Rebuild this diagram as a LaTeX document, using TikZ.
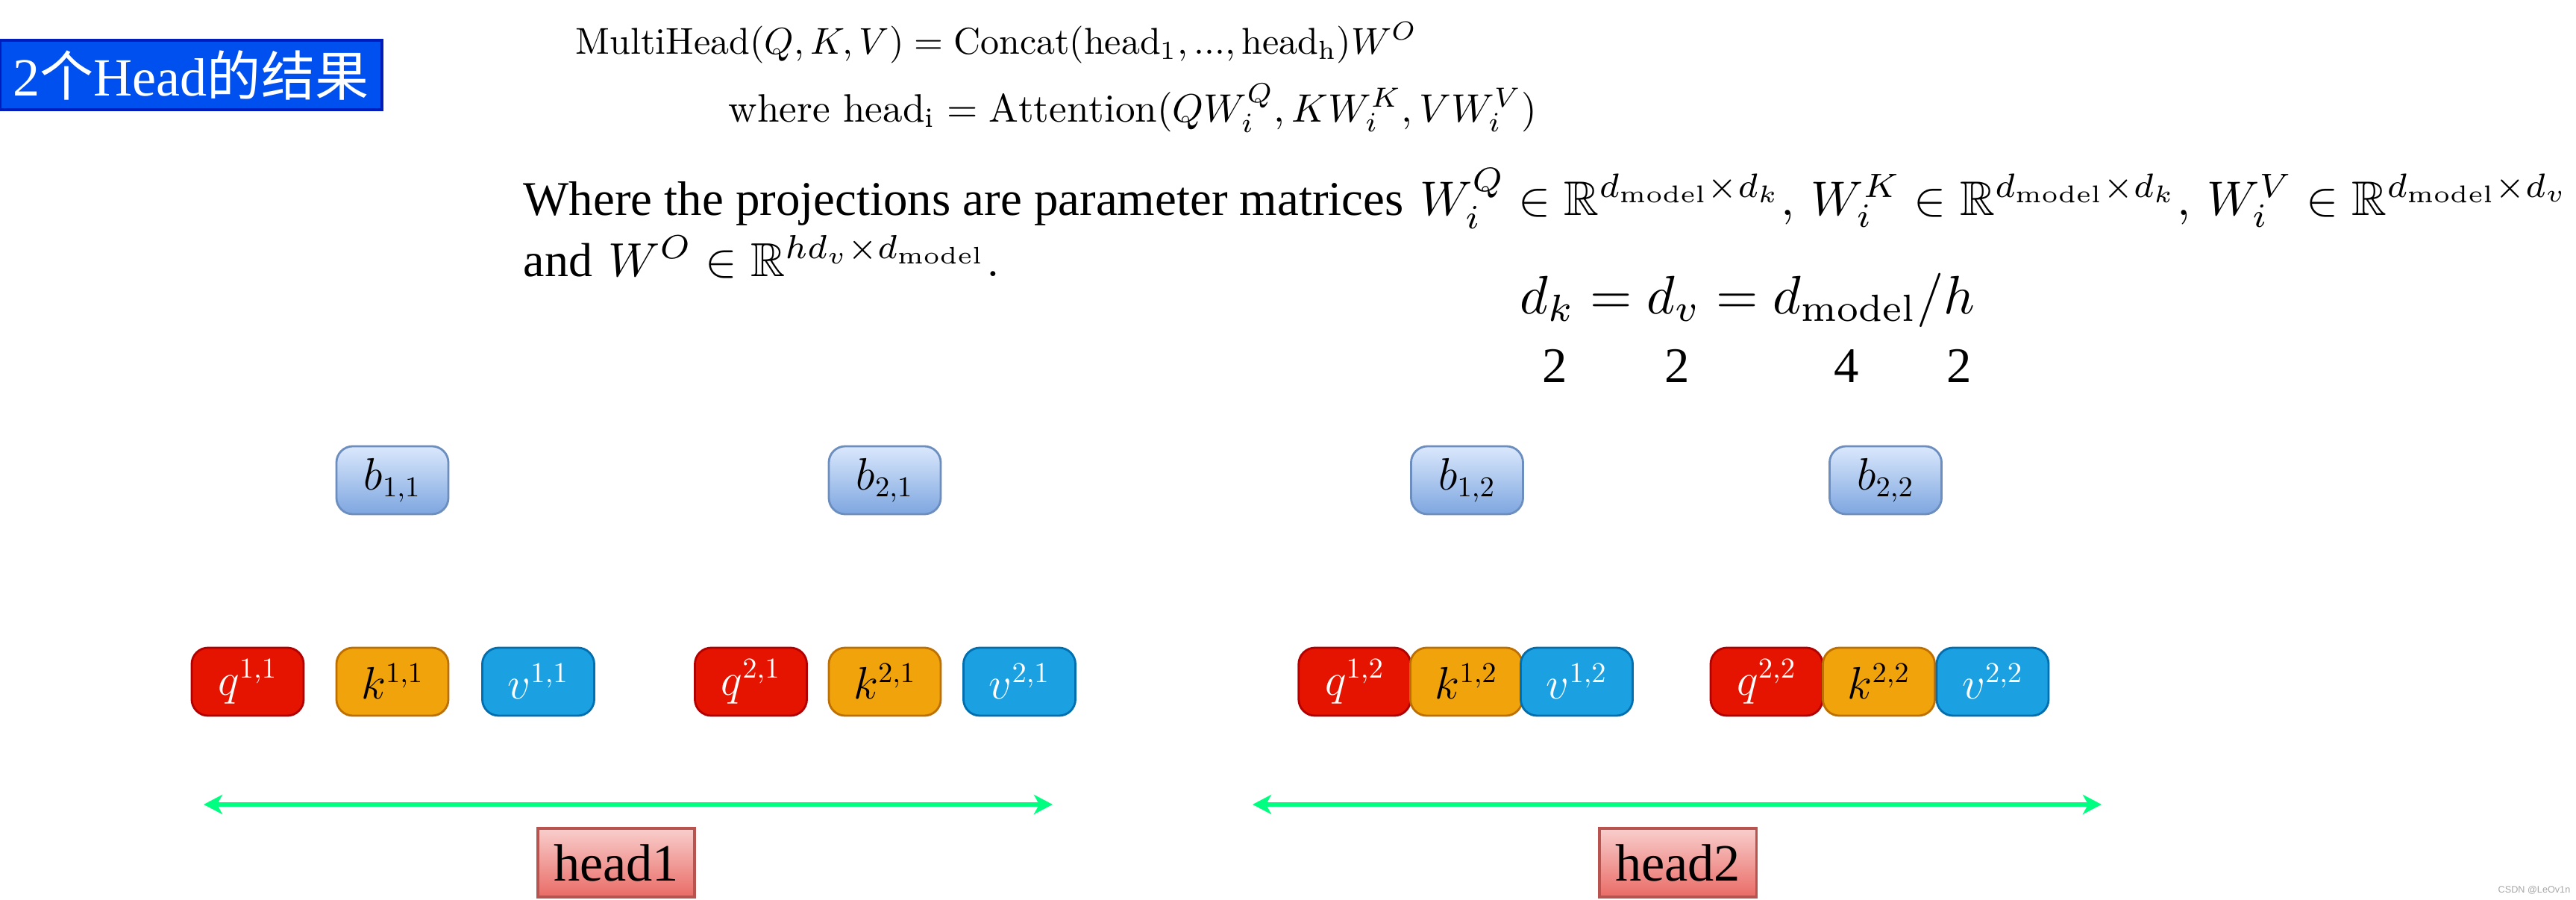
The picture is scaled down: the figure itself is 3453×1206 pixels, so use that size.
\documentclass[tikz,border=0pt]{standalone}
\usepackage{amssymb}
\usepackage{graphicx}
\usepackage{fontspec}
\newfontfamily\tnr{Liberation Serif}
\newfontfamily\cjk{Noto Sans CJK SC}
\newfontfamily\wmfont{Liberation Sans}
\usetikzlibrary{arrows.meta,shadings}
\definecolor{qfill}{HTML}{E51400}\definecolor{qline}{HTML}{B20000}
\definecolor{kfill}{HTML}{F0A30A}\definecolor{kline}{HTML}{BD7000}
\definecolor{vfill}{HTML}{1BA1E2}\definecolor{vline}{HTML}{006EAF}
\definecolor{btop}{HTML}{DAE8FC}\definecolor{bbot}{HTML}{7EA6E0}\definecolor{bline}{HTML}{6C8EBF}
\definecolor{htop}{HTML}{F8CECC}\definecolor{hbot}{HTML}{EA6B66}\definecolor{hline}{HTML}{B85450}
\definecolor{titlefill}{HTML}{0050EF}\definecolor{titleline}{HTML}{001DBC}
\definecolor{arrowgreen}{HTML}{00FF80}
\tikzset{
  cell/.style={rounded corners=0.22cm, minimum width=1.5cm, minimum height=0.91cm, inner sep=0pt, line width=0.8pt, font=\fontsize{16}{19}\selectfont},
  qbox/.style={cell, fill=qfill, draw=qline, text=white},
  kbox/.style={cell, fill=kfill, draw=kline, text=black},
  vbox/.style={cell, fill=vfill, draw=vline, text=white},
  bbox/.style={cell, top color=btop, bottom color=bbot, draw=bline, text=black},
  headbox/.style={minimum width=2.1cm, minimum height=0.92cm, inner sep=0pt, line width=0.9pt, top color=htop, bottom color=hbot, draw=hline, font=\tnr\fontsize{20}{24}\selectfont},
  span/.style={arrowgreen, line width=1.7pt, {Stealth[length=0.25cm,width=0.26cm,inset=0.07cm]}-{Stealth[length=0.25cm,width=0.26cm,inset=0.07cm]}},
  formula/.style={anchor=base west, inner sep=0pt},
  digit/.style={anchor=base, inner sep=0pt, font=\tnr\fontsize{19}{22}\selectfont}
}
\begin{document}
\begin{tikzpicture}[x=0.01cm,y=-0.01cm]
\useasboundingbox (0,0) rectangle (3453,1206);
% title
\node[draw=titleline, fill=titlefill, line width=1.1pt, minimum width=5.12cm, minimum height=0.93cm, inner sep=0pt, text=white, font=\fontsize{20.5}{24}\selectfont] (title) at (256,100.5) {{\tnr 2}{\cjk 个}{\tnr Head}{\cjk 的结果}};
% formulas
\node[formula] (f1) at (771,72) {\resizebox{11.27cm}{!}{$\mathrm{MultiHead}(Q,K,V) = \mathrm{Concat}(\mathrm{head_1}, ..., \mathrm{head_h})W^O$}};
\node[formula] (f2) at (976,163) {\resizebox{10.83cm}{!}{$\mbox{where}\ \mathrm{head_i} = \mathrm{Attention}(QW^Q_i, KW^K_i, VW^V_i)$}};
\node[formula] (f3) at (701,288) {\resizebox{27.4cm}{!}{{\tnr Where the projections are parameter matrices} $W^Q_i \in \mathbb{R}^{d_{\mathrm{model}}\times d_k}$, $W^K_i \in \mathbb{R}^{d_{\mathrm{model}}\times d_k}$, $W^V_i \in \mathbb{R}^{d_{\mathrm{model}}\times d_v}$}};
\node[formula] (f4) at (701,370) {\resizebox{6.38cm}{!}{{\tnr and} $W^O \in \mathbb{R}^{hd_v\times d_{\mathrm{model}}}$.}};
\node[formula] (f5) at (2037,420) {\resizebox{6.09cm}{!}{$d_k = d_v = d_{\mathrm{model}}/h$}};
\node[digit] (n1) at (2084,512) {2};
\node[digit] (n2) at (2248,512) {2};
\node[digit] (n3) at (2475,512) {4};
\node[digit] (n4) at (2626,512) {2};
% b boxes
\node[bbox] (b11) at (526,643.5) {$b_{1,1}$};
\node[bbox] (b21) at (1186,643.5) {$b_{2,1}$};
\node[bbox] (b12) at (1966.5,643.5) {$b_{1,2}$};
\node[bbox] (b22) at (2527.5,643.5) {$b_{2,2}$};
% q k v
\node[qbox] (q11) at (332,913.5) {$q^{1,1}$};
\node[kbox] (k11) at (526,913.5) {$k^{1,1}$};
\node[vbox] (v11) at (721.5,913.5) {$v^{1,1}$};
\node[qbox] (q21) at (1006.5,913.5) {$q^{2,1}$};
\node[kbox] (k21) at (1186,913.5) {$k^{2,1}$};
\node[vbox] (v21) at (1366.5,913.5) {$v^{2,1}$};
\node[qbox] (q12) at (1815.8,913.5) {$q^{1,2}$};
\node[kbox] (k12) at (1965.5,913.5) {$k^{1,2}$};
\node[vbox] (v12) at (2113.5,913.5) {$v^{1,2}$};
\node[qbox] (q22) at (2368,913.5) {$q^{2,2}$};
\node[kbox] (k22) at (2518.5,913.5) {$k^{2,2}$};
\node[vbox] (v22) at (2671,913.5) {$v^{2,2}$};
% spans
\coordinate (s1l) at (273,1078);
\coordinate (s1r) at (1411,1078);
\coordinate (s2l) at (1679,1078);
\coordinate (s2r) at (2817,1078);
\draw[span] (s1l) -- (s1r);
\draw[span] (s2l) -- (s2r);
\node[headbox] (h1) at (826,1156) {head1};
\node[headbox] (h2) at (2249,1156) {head2};
% watermark
\node[text=gray!70, font=\wmfont\fontsize{3.6}{4}\selectfont, inner sep=0pt] (wm) at (3397,1193) {CSDN @LeOv1n};
\end{tikzpicture}
\end{document}
